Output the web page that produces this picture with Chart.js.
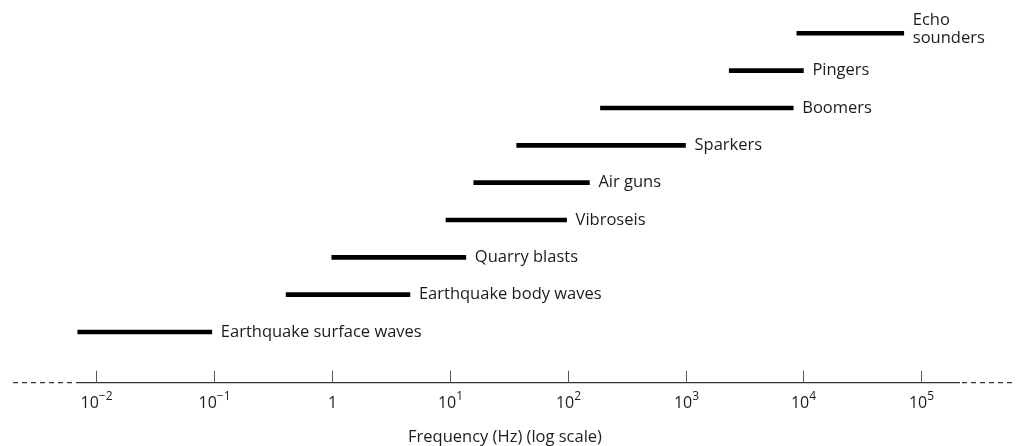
<!DOCTYPE html>
<html>
<head>
<meta charset="utf-8">
<script src="https://cdn.jsdelivr.net/npm/chart.js@4/dist/chart.umd.min.js"></script>
<style>
  html, body { margin: 0; padding: 0; background: #fff; }
  #wrap { width: 1016px; height: 446px; position: relative; }
</style>
</head>
<body>
<div id="wrap"><canvas id="freqChart"></canvas></div>
<script>
// source types, top to bottom
const categories = [
  ["Echo", "sounders"],
  "Pingers",
  "Boomers",
  "Sparkers",
  "Air guns",
  "Vibroseis",
  "Quarry blasts",
  "Earthquake body waves",
  "Earthquake surface waves"
];

// frequency band, Hz
const lowHz  = [8800, 2350, 190, 37, 16, 9.3, 1, 0.41, 0.007];
const highHz = [71000, 10000, 8200, 1000, 153, 98, 13.7, 4.6, 0.096];

// decades shown on the axis
const tickExponents = [-2, -1, 0, 1, 2, 3, 4, 5];
const axisTitle = "Frequency (Hz) (log scale)";

const FONT = '"Open Sans", "Noto Sans", sans-serif';
const TEXT = "#1f1b1c";

const ranges = lowHz.map((lo, i) => [lo, highHz[i]]);

const decorPlugin = {
  id: "decor",
  afterDatasetsDraw(chart) {
    const { ctx, chartArea, scales } = chart;
    const x = scales.x;
    const y = scales.y;
    const axisY = chartArea.bottom + 32;
    const solidL = 80, solidR = 960;

    ctx.save();

    // labels to the right of each bar
    ctx.fillStyle = TEXT;
    ctx.font = "16.5px " + FONT;
    ctx.textAlign = "left";
    ctx.textBaseline = "middle";
    categories.forEach((cat, i) => {
      const px = x.getPixelForValue(highHz[i]) + 9;
      const py = y.getPixelForValue(i);
      if (Array.isArray(cat)) {
        ctx.fillText(cat[0], px, py - 12.5);
        ctx.fillText(cat[1], px, py + 5.5);
      } else {
        ctx.fillText(cat, px, py);
      }
    });

    // axis line: solid in the middle, dashed at both ends
    ctx.strokeStyle = "#333";
    ctx.lineWidth = 1.3;
    ctx.beginPath();
    ctx.moveTo(solidL, axisY);
    ctx.lineTo(solidR, axisY);
    ctx.stroke();
    ctx.setLineDash([5, 4]);
    ctx.beginPath();
    ctx.moveTo(13, axisY);
    ctx.lineTo(solidL, axisY);
    ctx.moveTo(solidR + 2, axisY);
    ctx.lineTo(chart.width, axisY);
    ctx.stroke();
    ctx.setLineDash([]);

    // tick marks pointing up, and 10^n labels
    ctx.strokeStyle = "#555";
    ctx.lineWidth = 1;
    tickExponents.forEach(e => {
      const tx = Math.round(x.getPixelForValue(Math.pow(10, e))) + 0.5;
      ctx.beginPath();
      ctx.moveTo(tx, axisY - 12);
      ctx.lineTo(tx, axisY);
      ctx.stroke();

      ctx.fillStyle = TEXT;
      ctx.textBaseline = "alphabetic";
      if (e === 0) {
        ctx.font = "16px " + FONT;
        ctx.textAlign = "center";
        ctx.fillText("1", tx, axisY + 25.6);
        return;
      }
      const base = "10";
      const expo = e < 0 ? "\u2212" + (-e) : String(e);
      ctx.font = "16px " + FONT;
      const bw = ctx.measureText(base).width;
      ctx.font = "12px " + FONT;
      const ew = ctx.measureText(expo).width;
      const left = tx - (bw + ew) / 2;
      ctx.textAlign = "left";
      ctx.font = "16px " + FONT;
      ctx.fillText(base, left, axisY + 25.6);
      ctx.font = "12px " + FONT;
      ctx.fillText(expo, left + bw, axisY + 17.6);
    });

    // axis title
    ctx.font = "16.5px " + FONT;
    ctx.textAlign = "center";
    ctx.textBaseline = "alphabetic";
    ctx.fillText(axisTitle, 505, 442);

    ctx.restore();
  }
};

new Chart(document.getElementById("freqChart").getContext("2d"), {
  type: "bar",
  data: {
    labels: categories,
    datasets: [{
      data: ranges,
      backgroundColor: "#000",
      barThickness: 4,
      borderWidth: 0
    }]
  },
  options: {
    indexAxis: "y",
    responsive: true,
    maintainAspectRatio: false,
    animation: false,
    layout: { padding: { top: 14.6, bottom: 95.3, left: 0, right: 0 } },
    plugins: {
      legend: { display: false },
      tooltip: { enabled: false }
    },
    scales: {
      x: {
        type: "logarithmic",
        display: false,
        min: Math.pow(10, -2 - 96 / 117.9),
        max: Math.pow(10, -2 + (1016 - 96) / 117.9)
      },
      y: {
        type: "category",
        display: false,
        offset: true
      }
    }
  },
  plugins: [decorPlugin]
});
</script>
</body>
</html>
